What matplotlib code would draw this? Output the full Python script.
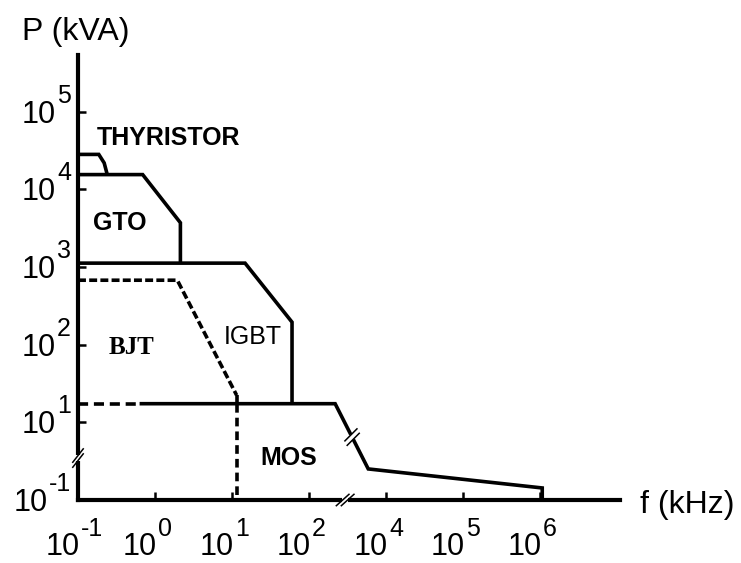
import numpy as np
import matplotlib.pyplot as plt
from matplotlib.transforms import IdentityTransform

plt.rcParams['font.family'] = 'Liberation Sans'

# Ejes partidos: cada paso es una década, con saltos 10^2 -> 10^4 (f) y 10^-1 -> 10^1 (P)
f_pos = [0, 1, 2, 3, 4, 5, 6]
f_exp = ['-1', '0', '1', '2', '4', '5', '6']
p_pos = [0, 1, 2, 3, 4, 5]
p_exp = ['-1', '1', '2', '3', '4', '5']

# Fronteras de cada dispositivo (posición en décadas del eje partido)
thy_f = [0, 0.27, 0.34, 0.38]
thy_p = [4.45, 4.45, 4.34, 4.19]
gto_f = [0, 0.84, 1.33, 1.33]
gto_p = [4.19, 4.19, 3.57, 3.05]
igbt_f = [0, 2.17, 2.78, 2.78]
igbt_p = [3.05, 3.05, 2.29, 1.24]
bjt_f = [0, 1.29, 2.06]
bjt_p = [2.83, 2.83, 1.35]
bjt_cola_f = [2.06, 2.06]
bjt_cola_p = [1.35, 1.24]
bjt_vert_f = [2.06, 2.06]
bjt_vert_p = [1.24, 0]
mos_izq_f = [0, 0.8]
mos_izq_p = [1.24, 1.24]
mos_f = [0.8, 3.34, 3.77, 6.03, 6.03]
mos_p = [1.24, 1.24, 0.40, 0.155, 0]

nombres = ['THYRISTOR', 'GTO', 'BJT', 'IGBT', 'MOS']
nombres_f = [1.18, 0.545, 0.69, 2.27, 2.74]
nombres_p = [4.66, 3.57, 1.96, 2.10, 0.54]
nombres_fuente = ['Liberation Sans', 'Liberation Sans', 'Liberation Serif',
                  'Liberation Sans', 'Liberation Sans']
nombres_peso = ['bold', 'bold', 'bold', 'normal', 'bold']

fig = plt.figure(figsize=(7.41, 5.63), dpi=100)
ax = fig.add_axes([78 / 741, 63 / 563, 542 / 741, 445 / 563])
ax.set_xlim(0, 7.04)
ax.set_ylim(0, 5.73)

for s in ['top', 'right']:
    ax.spines[s].set_visible(False)
for s in ['left', 'bottom']:
    ax.spines[s].set_linewidth(3)

ax.set_xticks(f_pos)
ax.set_yticks(p_pos)
ax.tick_params(direction='in', length=6, width=1.8,
               labelbottom=False, labelleft=False)

lw = 2.6
kw = dict(color='black', lw=lw, clip_on=False, solid_capstyle='butt',
          solid_joinstyle='miter')
ax.plot(thy_f, thy_p, **kw)
ax.plot(gto_f, gto_p, **kw)
ax.plot(igbt_f, igbt_p, **kw)
ax.plot(mos_f, mos_p, **kw)
ax.plot(bjt_cola_f, bjt_cola_p, **kw)
ax.plot(bjt_f, bjt_p, color='black', lw=lw, clip_on=False, dashes=(2.2, 0.9))
ax.plot(bjt_vert_f, bjt_vert_p, color='black', lw=lw, clip_on=False, dashes=(2.4, 1.4))
ax.plot(mos_izq_f, mos_izq_p, color='black', lw=lw, clip_on=False, dashes=(2.8, 1.6))

for nom, x, y, fam, peso in zip(nombres, nombres_f, nombres_p, nombres_fuente, nombres_peso):
    ax.text(x, y, nom, ha='center', va='center', fontsize=18,
            family=fam, fontweight=peso)

# Etiquetas 10^n con el exponente como texto aparte (más grande que en mathtext)
pix = IdentityTransform()
renderer = fig.canvas.get_renderer()
for pos, e in zip(f_pos, f_exp):
    x0, y0 = ax.transData.transform((pos, 0))
    ax.text(x0 + 2, y0 - 55, '10', fontsize=22, ha='right', va='baseline', transform=pix)
    ax.text(x0 + 3, y0 - 36, e, fontsize=18, ha='left', va='baseline', transform=pix)

for pos, e in zip(p_pos, p_exp):
    x0, y0 = ax.transData.transform((0, pos))
    sup = ax.text(x0 - 7, y0 + 9, e, fontsize=18, ha='right', va='baseline', transform=pix)
    izq = sup.get_window_extent(renderer).x0
    ax.text(izq - 1, y0 - 11, '10', fontsize=22, ha='right', va='baseline', transform=pix)


def corte(ax, u, v, ang_linea, ang_marca, sep=5, largo=17):
    # Dibuja la marca "//" de eje partido sobre una línea
    c = ax.transData.transform((u, v))
    d = np.array([np.cos(np.radians(ang_linea)), np.sin(np.radians(ang_linea))])
    m = np.array([np.cos(np.radians(ang_marca)), np.sin(np.radians(ang_marca))])
    inv = ax.transData.inverted()
    hueco = inv.transform([c - d * sep * 0.55, c + d * sep * 0.55])
    ax.plot(hueco[:, 0], hueco[:, 1], color='white', lw=5.5, clip_on=False,
            solid_capstyle='butt', zorder=5)
    for s in (-1, 1):
        p = c + s * d * sep / 2
        pts = inv.transform([p - m * largo / 2, p + m * largo / 2])
        ax.plot(pts[:, 0], pts[:, 1], color='black', lw=1.1, clip_on=False, zorder=6)


corte(ax, 0, 0.54, 90, 52)
corte(ax, 3.47, 0, 0, 42)
corte(ax, 3.56, 0.81, -63, 45)

fig.text(22 / 741, 1 - 32 / 563, 'P (kVA)', fontsize=23, va='center', ha='left')
fig.text(640 / 741, 1 - 505 / 563, 'f (kHz)', fontsize=23, va='center', ha='left')

fig.savefig('out.png', dpi=100)
